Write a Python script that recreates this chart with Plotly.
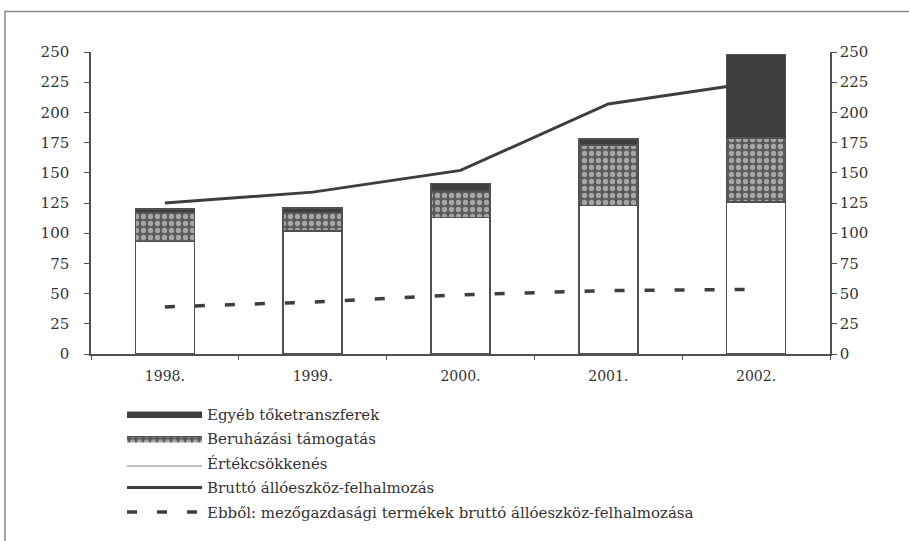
import plotly.graph_objects as go

years = ["1998.", "1999.", "2000.", "2001.", "2002."]
ertekcsokkenes = [93, 102, 113, 123, 126]
beruhazasi = [24, 15, 22, 50, 53]
egyeb = [3, 4, 6, 5, 69]
brutto = [125, 134, 152, 207, 225]
ebbol = [39, 43, 49, 52.5, 53.5]
yticks = [0, 25, 50, 75, 100, 125, 150, 175, 200, 225, 250]

FONT = "DejaVu Serif"
DARK = "#3e3e3e"
OUT = "#505050"
PAT = dict(shape=".", bgcolor="#5a5a5a", fgcolor="#f2f2f2", size=7, solidity=0.45, fillmode="overlay")

fig = go.Figure()
fig.add_trace(go.Bar(
    x=years, y=ertekcsokkenes, name="Értékcsökkenés", showlegend=False,
    marker=dict(color="white", line=dict(color=OUT, width=1.6)),
))
fig.add_trace(go.Bar(
    x=years, y=beruhazasi, name="Beruházási támogatás", showlegend=False,
    marker=dict(color="#5a5a5a", line=dict(color=OUT, width=1.6), pattern=PAT),
))
fig.add_trace(go.Bar(
    x=years, y=egyeb, name="Egyéb tőketranszferek", showlegend=False,
    marker=dict(color=DARK, line=dict(color=OUT, width=1.6)),
))
fig.add_trace(go.Scatter(
    x=years, y=brutto, name="Bruttó állóeszköz-felhalmozás", legendrank=4, yaxis="y2",
    mode="lines", line=dict(color=DARK, width=3),
))
fig.add_trace(go.Scatter(
    x=years, y=ebbol, name="Ebből: mezőgazdasági termékek bruttó állóeszköz-felhalmozása",
    legendrank=5, yaxis="y2", mode="lines", line=dict(color=DARK, width=3.5, dash="10px,20px"),
))

# legend entries for the bar series (wide rectangular swatches, as in the original)
fig.add_trace(go.Scatter(x=[None], y=[None], name="Egyéb tőketranszferek", legendrank=1,
                         mode="lines", fill="toself", fillcolor=DARK,
                         line=dict(color=DARK, width=1)))
fig.add_trace(go.Scatter(x=[None], y=[None], name="Beruházási támogatás", legendrank=2,
                         mode="lines", fill="toself", fillcolor="#5a5a5a", fillpattern=PAT,
                         line=dict(color=OUT, width=1)))
fig.add_trace(go.Scatter(x=[None], y=[None], name="Értékcsökkenés", legendrank=3,
                         mode="lines", fill="toself", fillcolor="white",
                         fillpattern=dict(shape="-", bgcolor="white", fgcolor=OUT,
                                          size=6, solidity=0.25, fillmode="overlay"),
                         line=dict(color="rgba(0,0,0,0)", width=0)))

fig.update_layout(
    width=909, height=541,
    margin=dict(l=91, r=79, t=52, b=184),
    paper_bgcolor="white", plot_bgcolor="white",
    barmode="stack", bargap=0.6,
    font=dict(family=FONT, size=15, color="#333333"),
    showlegend=True,
    legend=dict(
        x=0.042, y=-0.145, xanchor="left", yanchor="top",
        orientation="v", itemwidth=75, font=dict(family=FONT, size=15, color="#333333"),
        bgcolor="rgba(0,0,0,0)", tracegroupgap=2,
    ),
    xaxis=dict(
        type="category", showline=True, linecolor=OUT, linewidth=1.5,
        ticks="outside", tickson="boundaries", ticklen=4, tickcolor=OUT,
        showgrid=False, tickfont=dict(family=FONT, size=14), ticklabelstandoff=8,
    ),
    yaxis=dict(
        range=[0, 250], tickvals=yticks, showline=True, linecolor=OUT, linewidth=1.5,
        ticks="outside", ticklen=5, tickcolor=OUT, showgrid=False, zeroline=False,
        tickfont=dict(family=FONT, size=15), ticklabelstandoff=12,
    ),
    yaxis2=dict(
        range=[0, 250], tickvals=yticks, overlaying="y", side="right",
        showline=True, linecolor=OUT, linewidth=1.5, ticks="outside", ticklen=5,
        tickcolor=OUT, showgrid=False, zeroline=False, tickfont=dict(family=FONT, size=15),
    ),
    shapes=[dict(type="rect", xref="paper", yref="paper",
                 x0=-0.1164, x1=1.3, y0=-0.8, y1=1.134,
                 line=dict(color="#8a8a8a", width=1.5), fillcolor="rgba(0,0,0,0)")],
)
for i, tr in enumerate(fig.data):
    tr.legendgroup = "g%d" % i

fig.write_html("out.html", config={"displayModeBar": False},
               post_script="document.body.style.margin='0';")
